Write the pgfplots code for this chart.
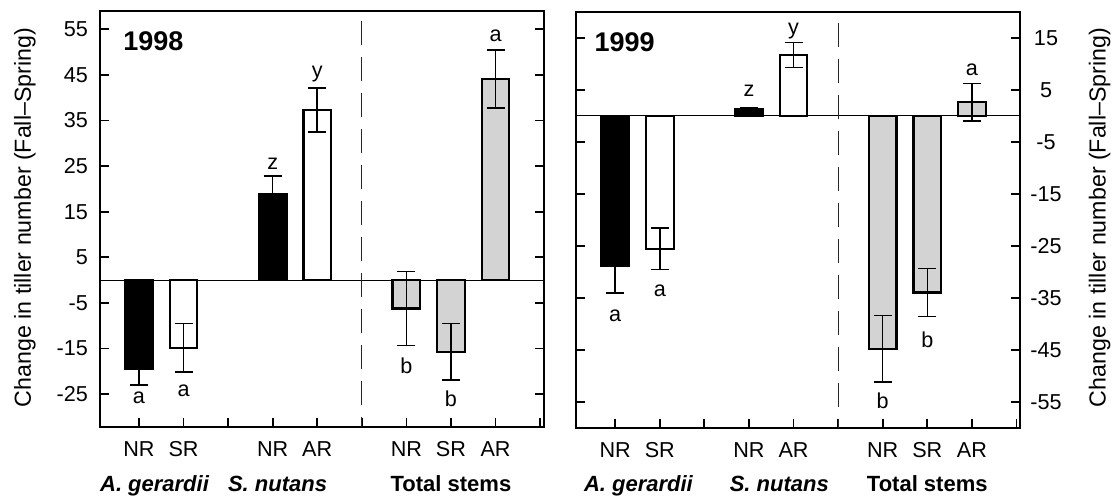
\documentclass[border=0pt]{standalone}
\usepackage{fontspec}
\setmainfont{Liberation Sans}
\usepackage{pgfplots}
\pgfplotsset{compat=1.18}
\definecolor{lgray}{RGB}{211,211,211}
\pgfplotsset{
  panel/.style={
    scale only axis, width=222bp, height=208bp,
    xmin=0.12, xmax=10.08,
    axis line style={line width=0.9bp},
    tick style={line width=0.9bp, black},
    major tick length=4.5bp,
    tick align=inside,
    xtick={1,...,10},
    xticklabels={NR,SR,,NR,AR,,NR,SR,AR,},
    xtick pos=lower, ytick pos=both,
    ticklabel style={font=\fontsize{10.8bp}{12bp}\selectfont},
    xticklabel style={anchor=base, yshift=-14.9bp},
    clip=false,
  },
  mybar/.style={ybar, bar width=0.62, bar shift=0pt, draw=black, line width=1.1bp,
    /pgfplots/error bars/y dir=both, /pgfplots/error bars/y explicit,
    /pgfplots/error bars/error bar style={line width=0.75bp, black, solid},
    /pgfplots/error bars/error mark options={rotate=90, mark size=4.5bp, line width=0.75bp, black, solid}},
}
\tikzset{
  lett/.style={font=\fontsize{10.8bp}{12bp}\selectfont, inner sep=0pt, anchor=center},
  grp/.style={font=\fontsize{11bp}{13bp}\selectfont\bfseries, inner sep=0pt, anchor=base, yshift=-32bp},
  yr/.style={font=\fontsize{13.5bp}{15bp}\selectfont\bfseries, inner sep=0pt, anchor=west},
}
\begin{document}
\begin{tikzpicture}
\useasboundingbox (0,0) rectangle (558.5bp,251bp);
% ---------------- 1998 ----------------
\begin{axis}[panel, at={(49.85bp,37.5bp)}, anchor=south west,
  ymin=-32.2, ymax=59,
  ytick={-25,-15,-5,5,15,25,35,45,55},
  yticklabels={-25,-15,-5,5,15,25,35,45,55},
  yticklabel style={xshift=-2.4bp}]
\addplot[black, line width=0.5bp] coordinates {(0.12,0) (10.08,0)};
\addplot[black!85, line width=0.6bp, dash pattern=on 12bp off 6bp] coordinates {(6,56.8) (6,-32.2)};
\addplot[fill=black, mybar] coordinates {(1,-19.5) +- (0,3.5) (4,18.8) +- (0,4.0)};
\addplot[fill=white, mybar] coordinates {(2,-14.8) +- (0,5.3) (5,37.3) +- (0,4.8)};
\addplot[fill=lgray, mybar] coordinates {(7,-6.2) +- (0,8.1) (8,-15.7) +- (0,6.2) (9,44.1) +- (0,6.4)};
\node[lett] at (axis cs:1,-25.9) {a};
\node[lett] at (axis cs:2,-24.3) {a};
\node[lett] at (axis cs:4,25.4) {z};
\node[lett] at (axis cs:5,45.1) {y};
\node[lett] at (axis cs:7,-18.8) {b};
\node[lett] at (axis cs:8,-26.1) {b};
\node[lett] at (axis cs:9,53.6) {a};
\node[yr] at (axis cs:0.64,52.3) {1998};
\node[grp] at (axis cs:1.35,-32.2) {\itshape A. gerardii};
\node[grp] at (axis cs:4.11,-32.2) {\itshape S. nutans};
\node[grp] at (axis cs:8.0,-32.2) {Total stems};
\end{axis}
% ---------------- 1999 ----------------
\begin{axis}[panel, at={(288bp,37.15bp)}, anchor=south west,
  ymin=-60, ymax=20,
  ytick={-55,-45,-35,-25,-15,-5,5,15},
  yticklabels={-55,-45,-35,-25,-15,-5,5,15},
  yticklabel pos=right,
  yticklabel style={anchor=center, xshift=13bp}]
\addplot[black, line width=0.5bp] coordinates {(0.12,0) (10.08,0)};
\addplot[black!85, line width=0.6bp, dash pattern=on 12bp off 6bp] coordinates {(6,17.9) (6,-60)};
\addplot[fill=black, mybar] coordinates {(1,-28.8) +- (0,5.3) (4,1.3) +- (0,0.2)};
\addplot[fill=white, mybar] coordinates {(2,-25.6) +- (0,4.0) (5,11.7) +- (0,2.4)};
\addplot[fill=lgray, mybar] coordinates {(7,-44.8) +- (0,6.4) (8,-34.0) +- (0,4.6) (9,2.6) +- (0,3.6)};
\node[lett] at (axis cs:1,-38.4) {a};
\node[lett] at (axis cs:2,-33.6) {a};
\node[lett] at (axis cs:4,4.7) {z};
\node[lett] at (axis cs:5,16.3) {y};
\node[lett] at (axis cs:7,-54.8) {b};
\node[lett] at (axis cs:8,-43.1) {b};
\node[lett] at (axis cs:9,8.9) {a};
\node[yr] at (axis cs:0.53,14.2) {1999};
\node[grp] at (axis cs:1.52,-60) {\itshape A. gerardii};
\node[grp] at (axis cs:4.68,-60) {\itshape S. nutans};
\node[grp] at (axis cs:8.0,-60) {Total stems};
\end{axis}
\node[rotate=90, font=\fontsize{11.6bp}{13bp}\selectfont] at (12.5bp,142.25bp) {Change in tiller number (Fall–Spring)};
\node[rotate=90, font=\fontsize{11.6bp}{13bp}\selectfont] at (549.85bp,142.25bp) {Change in tiller number (Fall–Spring)};
\end{tikzpicture}
\end{document}
